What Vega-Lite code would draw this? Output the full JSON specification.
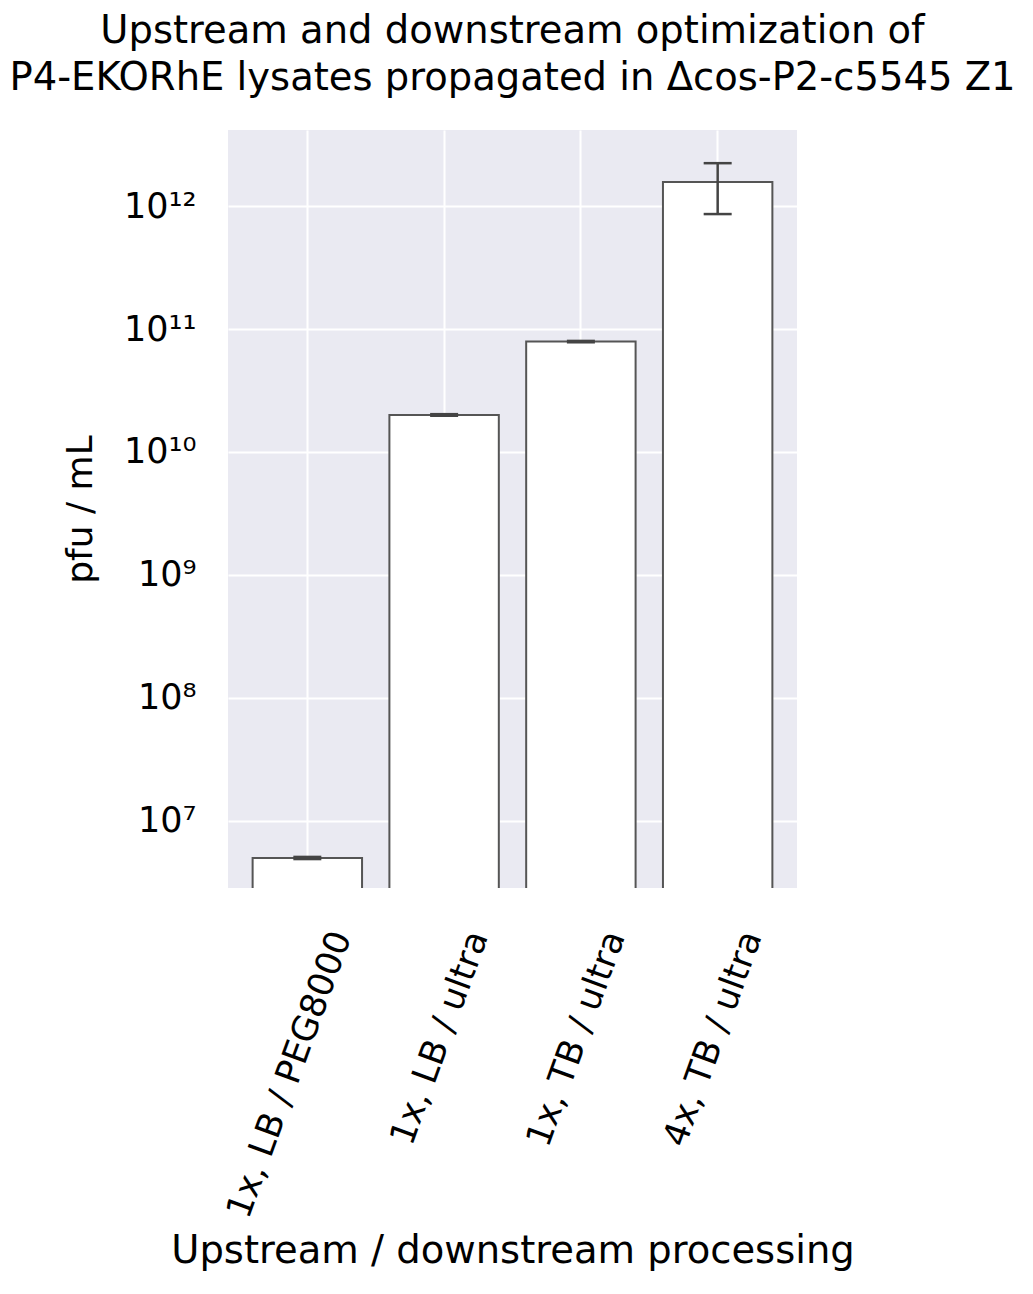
{
  "$schema": "https://vega.github.io/schema/vega-lite/v6.json",
  "autosize": {"type": "none"},
  "padding": {"left": 228, "top": 130, "right": 236, "bottom": 406},
  "width": 569,
  "height": 758,
  "background": "white",
  "title": {
    "text": ["Upstream and downstream optimization of", "P4-EKORhE lysates propagated in Δcos-P2-c5545 Z1"],
    "font": "DejaVu Sans",
    "fontSize": 38.5,
    "fontWeight": "normal",
    "color": "#000000",
    "lineHeight": 47,
    "offset": 32,
    "anchor": "middle"
  },
  "data": {
    "values": [
      {"group": "1x, LB / PEG8000", "pfu": 5.0e6, "lo": 4.9e6, "hi": 5.1e6},
      {"group": "1x, LB / ultra", "pfu": 2.0e10, "lo": 1.97e10, "hi": 2.03e10},
      {"group": "1x, TB / ultra", "pfu": 7.9e10, "lo": 7.8e10, "hi": 8.0e10},
      {"group": "4x, TB / ultra", "pfu": 1.57e12, "lo": 8.6e11, "hi": 2.23e12}
    ]
  },
  "layer": [
    {
      "mark": {"type": "bar", "fill": "white", "stroke": "#555555", "strokeWidth": 2, "clip": true},
      "encoding": {
        "x": {
          "field": "group",
          "type": "nominal",
          "sort": null,
          "scale": {"paddingInner": 0.2, "paddingOuter": 0.18},
          "axis": {
            "title": "Upstream / downstream processing",
            "titleFont": "DejaVu Sans",
            "titleFontSize": 38.5,
            "titleFontWeight": "normal",
            "titleColor": "#000000",
            "titleBaseline": "alphabetic",
            "titleY": 374,
            "labelAngle": -70,
            "labelAlign": "right",
            "labelBaseline": "middle",
            "labelFont": "DejaVu Sans",
            "labelFontSize": 35,
            "labelColor": "#000000",
            "labelPadding": 44,
            "labelOffset": 34,
            "labelLimit": 0,
            "bandPosition": 0.5,
            "grid": true,
            "encode": {
              "labels": {
                "dx": {"condition": {"test": "datum.value === '1x, LB / PEG8000'", "value": 4.1}, "value": 0},
                "dy": {"condition": {"test": "datum.value === '1x, LB / PEG8000'", "value": 11.3}, "value": 0}
              }
            }
          }
        },
        "y": {
          "field": "pfu",
          "type": "quantitative",
          "scale": {"type": "log", "domain": [2850000, 4150000000000], "nice": false},
          "axis": {
            "title": "pfu / mL",
            "titleFont": "DejaVu Sans",
            "titleFontSize": 36,
            "titleFontWeight": "normal",
            "titleColor": "#000000",
            "titleX": -148,
            "titleBaseline": "middle",
            "values": [10000000, 100000000, 1000000000, 10000000000, 100000000000, 1000000000000],
            "labelExpr": "datum.value >= 1e12 ? '10¹²' : datum.value >= 1e11 ? '10¹¹' : datum.value >= 1e10 ? '10¹⁰' : datum.value >= 1e9 ? '10⁹' : datum.value >= 1e8 ? '10⁸' : '10⁷'",
            "labelFont": "DejaVu Sans",
            "labelFontSize": 35,
            "labelColor": "#000000",
            "labelPadding": 32,
            "grid": true
          }
        },
        "y2": {"datum": 1000000}
      }
    },
    {
      "mark": {"type": "rule", "color": "#444444", "strokeWidth": 2.5},
      "encoding": {
        "x": {"field": "group", "type": "nominal", "sort": null, "title": "Upstream / downstream processing"},
        "y": {"field": "lo", "type": "quantitative", "title": "pfu / mL"},
        "y2": {"field": "hi"}
      }
    },
    {
      "mark": {"type": "tick", "color": "#444444", "thickness": 2.5, "size": 28, "opacity": 1},
      "encoding": {
        "x": {"field": "group", "type": "nominal", "sort": null, "title": "Upstream / downstream processing"},
        "y": {"field": "lo", "type": "quantitative", "title": "pfu / mL"}
      }
    },
    {
      "mark": {"type": "tick", "color": "#444444", "thickness": 2.5, "size": 28, "opacity": 1},
      "encoding": {
        "x": {"field": "group", "type": "nominal", "sort": null, "title": "Upstream / downstream processing"},
        "y": {"field": "hi", "type": "quantitative", "title": "pfu / mL"}
      }
    }
  ],
  "config": {
    "view": {"fill": "#EAEAF2", "stroke": null},
    "axis": {"domain": false, "ticks": false, "gridColor": "#FFFFFF", "gridWidth": 2, "gridOpacity": 1}
  }
}
